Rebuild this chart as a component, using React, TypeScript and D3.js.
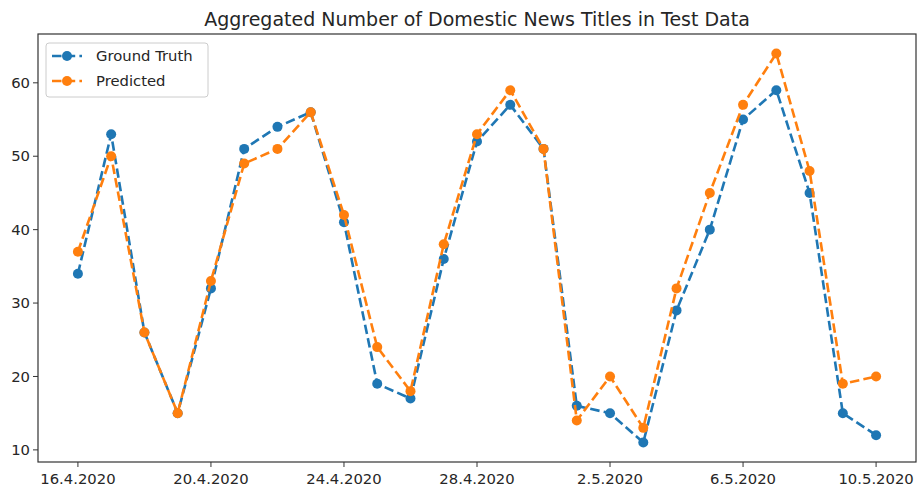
import React from 'react';
import * as d3 from 'd3';

const dates = [
  '16.4.2020', '17.4.2020', '18.4.2020', '19.4.2020', '20.4.2020', '21.4.2020', '22.4.2020',
  '23.4.2020', '24.4.2020', '25.4.2020', '26.4.2020', '27.4.2020', '28.4.2020', '29.4.2020',
  '30.4.2020', '1.5.2020', '2.5.2020', '3.5.2020', '4.5.2020', '5.5.2020', '6.5.2020',
  '7.5.2020', '8.5.2020', '9.5.2020', '10.5.2020',
];
const groundTruth = [34, 53, 26, 15, 32, 51, 54, 56, 41, 19, 17, 36, 52, 57, 51, 16, 15, 11, 29, 40, 55, 59, 45, 15, 12];
const predicted = [37, 50, 26, 15, 33, 49, 51, 56, 42, 24, 18, 38, 53, 59, 51, 14, 20, 13, 32, 45, 57, 64, 48, 19, 20];
const xTickIdx = [0, 4, 8, 12, 16, 20, 24];
const yTicks = [10, 20, 30, 40, 50, 60];

const series = [
  { name: 'Ground Truth', values: groundTruth, color: '#1f77b4' },
  { name: 'Predicted', values: predicted, color: '#ff7f0e' },
];

const W = 917;
const H = 488;
const m = { left: 38, right: 1, top: 34, bottom: 26 };

export default function App() {
  const n = dates.length;
  const x = d3.scaleLinear().domain([-1.2, n - 1 + 1.2]).range([m.left, W - m.right]);
  const lo = 11, hi = 64, pad = (hi - lo) * 0.05;
  const y = d3.scaleLinear().domain([lo - pad, hi + pad]).range([H - m.bottom, m.top]);
  const line = d3.line<number>().x((_, i) => x(i)).y(d => y(d));
  const font = 'DejaVu Sans, sans-serif';
  const x0 = m.left, x1 = W - m.right, y0 = m.top, y1 = H - m.bottom;

  return (
    <svg width={W} height={H} style={{ position: 'absolute', left: 0, top: 0, background: '#fff' }} fontFamily={font}>
      <text x={(x0 + x1) / 2} y={26} textAnchor="middle" fontSize={19} fill="#262626">
        Aggregated Number of Domestic News Titles in Test Data
      </text>
      {series.map(s => (
        <g key={s.name}>
          <path d={line(s.values) || ''} fill="none" stroke={s.color} strokeWidth={2.6} strokeDasharray="9.5,4.2" />
          {s.values.map((v, i) => (
            <circle key={i} cx={x(i)} cy={y(v)} r={5} fill={s.color} />
          ))}
        </g>
      ))}
      <rect x={x0} y={y0} width={x1 - x0} height={y1 - y0} fill="none" stroke="#333" strokeWidth={1.2} />
      {xTickIdx.map(i => (
        <g key={i} transform={`translate(${x(i)},${y1})`}>
          <line y2={5} stroke="#333" strokeWidth={1} />
          <text y={21.5} textAnchor="middle" fontSize={14.8} fill="#262626">{dates[i]}</text>
        </g>
      ))}
      {yTicks.map(t => (
        <g key={t} transform={`translate(${x0},${y(t)})`}>
          <line x2={-5} stroke="#333" strokeWidth={1} />
          <text x={-8} dy="0.35em" textAnchor="end" fontSize={14.8} fill="#262626">{t}</text>
        </g>
      ))}
      <g transform="translate(46,43)">
        <rect width={162} height={54} rx={3} fill="#fff" fillOpacity={0.8} stroke="#ccc" strokeWidth={1} />
        {series.map((s, i) => (
          <g key={s.name} transform={`translate(0,${13 + i * 25})`}>
            <line x1={6} x2={36} stroke={s.color} strokeWidth={2.6} strokeDasharray="9.5,4.2" />
            <circle cx={21} cy={0} r={5} fill={s.color} />
            <text x={50} dy="0.35em" fontSize={14.8} fill="#262626">{s.name}</text>
          </g>
        ))}
      </g>
    </svg>
  );
}
